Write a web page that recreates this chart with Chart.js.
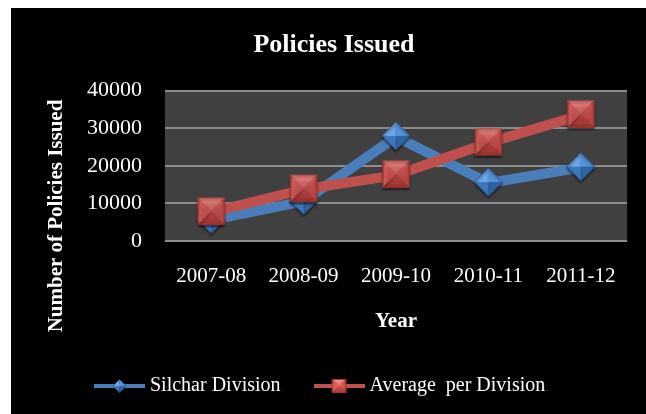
<!DOCTYPE html>
<html>
<head>
<meta charset="utf-8">
<script src="https://cdn.jsdelivr.net/npm/chart.js@4.4.1/dist/chart.umd.min.js"></script>
<style>
html,body{margin:0;padding:0;background:#ffffff;}
canvas{display:block;}
</style>
</head>
<body>
<canvas id="c" width="646" height="414"></canvas>
<script>
// ---- data ----
const categories = ['2007-08', '2008-09', '2009-10', '2010-11', '2011-12'];
const silcharDivision = [5500, 10500, 27700, 15400, 19500];
const averagePerDivision = [7600, 13700, 17500, 26100, 33500];
const yTickValues = [0, 10000, 20000, 30000, 40000];
const seriesNames = ['Silchar Division', 'Average  per Division'];
const chartTitle = 'Policies Issued';
const xAxisTitle = 'Year';
const yAxisTitle = 'Number of Policies Issued';

const FONT = "'Liberation Serif', 'Times New Roman', serif";
const BLUE = '#4a7ebb';
const RED = '#c0504d';

// ---- marker images ----
function drawDiamond(ctx, cx, cy, r) {
  const T = [cx, cy - r], R = [cx + r, cy], B = [cx, cy + r], L = [cx - r, cy];
  const faces = [[L, T, '#6ea8e8'], [T, R, '#5593d9'], [R, B, '#2f64a3'], [B, L, '#3c77bb']];
  faces.forEach(([a, b, col]) => {
    ctx.beginPath(); ctx.moveTo(a[0], a[1]); ctx.lineTo(b[0], b[1]); ctx.lineTo(cx, cy); ctx.closePath();
    ctx.fillStyle = col; ctx.fill();
  });
  ctx.beginPath(); ctx.moveTo(T[0], T[1]); ctx.lineTo(R[0], R[1]); ctx.lineTo(B[0], B[1]); ctx.lineTo(L[0], L[1]); ctx.closePath();
  ctx.strokeStyle = '#2a568c'; ctx.lineWidth = 1; ctx.stroke();
}
function drawSquare(ctx, cx, cy, s) {
  const h = s / 2;
  const p = [[cx - h, cy - h], [cx + h, cy - h], [cx + h, cy + h], [cx - h, cy + h]];
  const cols = ['#ef8b88', '#d4504c', '#b83d3a', '#dc5f5b'];
  for (let i = 0; i < 4; i++) {
    const a = p[i], b = p[(i + 1) % 4];
    ctx.beginPath(); ctx.moveTo(a[0], a[1]); ctx.lineTo(b[0], b[1]); ctx.lineTo(cx, cy); ctx.closePath();
    ctx.fillStyle = cols[i]; ctx.fill();
  }
  const g = ctx.createLinearGradient(cx, cy - h, cx, cy + h);
  g.addColorStop(0, 'rgba(240,120,118,0.55)');
  g.addColorStop(1, 'rgba(190,60,58,0.35)');
  ctx.fillStyle = g;
  ctx.fillRect(cx - h + 3, cy - h + 3, s - 6, s - 6);
  ctx.strokeStyle = '#9c3431'; ctx.lineWidth = 1;
  ctx.strokeRect(cx - h + 0.5, cy - h + 0.5, s - 1, s - 1);
}
function makeCanvas(w, h, fn) {
  const c = document.createElement('canvas');
  c.width = w; c.height = h;
  fn(c.getContext('2d'));
  return c;
}
const diamondImg = makeCanvas(32, 32, ctx => {
  ctx.shadowColor = 'rgba(0,0,0,0.5)'; ctx.shadowOffsetY = 2; ctx.shadowBlur = 2;
  drawDiamond(ctx, 16, 15, 14);
});
const squareImg = makeCanvas(32, 32, ctx => {
  ctx.shadowColor = 'rgba(0,0,0,0.5)'; ctx.shadowOffsetY = 2; ctx.shadowBlur = 2;
  drawSquare(ctx, 16, 15, 27);
});
const legendBlue = makeCanvas(51, 20, ctx => {
  ctx.fillStyle = BLUE; ctx.fillRect(0, 8, 51, 4);
  drawDiamond(ctx, 25.5, 10, 6.5);
});
const legendRed = makeCanvas(51, 20, ctx => {
  ctx.fillStyle = RED; ctx.fillRect(0, 8, 51, 4);
  drawSquare(ctx, 25.5, 10, 14);
});
const legendImgs = [legendBlue, legendRed];

// ---- plugins ----
const backgroundPlugin = {
  id: 'bg',
  afterLayout(chart) {
    if (chart.legend) chart.legend.left = 61;
  },
  beforeDraw(chart) {
    const ctx = chart.ctx, a = chart.chartArea;
    ctx.save();
    ctx.fillStyle = '#ffffff'; ctx.fillRect(0, 0, chart.width, chart.height);
    ctx.fillStyle = '#000000'; ctx.fillRect(11, 8, chart.width - 11, chart.height - 8);
    ctx.fillStyle = '#404040'; ctx.fillRect(a.left, a.top, a.right - a.left, a.bottom - a.top);
    ctx.restore();
  }
};
const yTitlePlugin = {
  id: 'ytitle',
  afterDraw(chart) {
    const ctx = chart.ctx;
    ctx.save();
    ctx.translate(57, 216);
    ctx.rotate(-Math.PI / 2);
    ctx.font = 'bold 21px ' + FONT;
    ctx.fillStyle = '#ffffff';
    ctx.textAlign = 'center';
    ctx.textBaseline = 'middle';
    ctx.fillText(yAxisTitle, 0, 0);
    ctx.restore();
  }
};

new Chart(document.getElementById('c'), {
  type: 'line',
  data: {
    labels: categories,
    datasets: [
      {
        label: seriesNames[0], data: silcharDivision, order: 1,
        borderColor: BLUE, borderWidth: 10, tension: 0,
        pointStyle: diamondImg, pointRadius: 14
      },
      {
        label: seriesNames[1], data: averagePerDivision, order: 0,
        borderColor: RED, borderWidth: 10, tension: 0,
        pointStyle: squareImg, pointRadius: 14
      }
    ]
  },
  options: {
    responsive: false,
    animation: false,
    events: [],
    devicePixelRatio: 1,
    layout: { autoPadding: false, padding: { left: 41, right: 19, top: 8, bottom: 8 } },
    plugins: {
      title: {
        display: true, text: chartTitle, color: '#ffffff',
        font: { family: FONT, size: 26, weight: 'bold' },
        padding: { top: 22, bottom: 29.5 }
      },
      legend: {
        display: true, position: 'bottom', align: 'start',
        labels: {
          usePointStyle: true, pointStyleWidth: 41, padding: 38,
          color: '#ffffff', font: { family: FONT, size: 20 },
          generateLabels: (chart) => chart.data.datasets.map((ds, i) => ({
            text: ds.label, pointStyle: legendImgs[i], fontColor: '#ffffff',
            datasetIndex: i, hidden: false, lineWidth: 0,
            strokeStyle: 'rgba(0,0,0,0)', fillStyle: 'rgba(0,0,0,0)'
          }))
        }
      },
      tooltip: { enabled: false }
    },
    scales: {
      x: {
        offset: true,
        grid: { display: false, drawTicks: false },
        border: { display: false },
        ticks: { color: '#ffffff', font: { family: FONT, size: 21 }, padding: 22.7, maxRotation: 0 },
        title: {
          display: true, text: xAxisTitle, color: '#ffffff',
          font: { family: FONT, size: 21, weight: 'bold' },
          padding: { top: 0, bottom: 3.4 }
        },
        afterFit: (scale) => { scale.height = 97.2; scale.paddingLeft = 0; scale.paddingRight = 0; }
      },
      y: {
        min: 0, max: 40000,
        afterBuildTicks: (scale) => { scale.ticks = yTickValues.map(v => ({ value: v })); },
        grid: { color: '#8c8c8c', lineWidth: 2, drawTicks: false },
        border: { display: false },
        ticks: { color: '#ffffff', font: { family: FONT, size: 22 }, padding: 23, callback: (v) => String(v) },
        afterFit: (scale) => { scale.width = 124; }
      }
    }
  },
  plugins: [backgroundPlugin, yTitlePlugin]
});
</script>
</body>
</html>
